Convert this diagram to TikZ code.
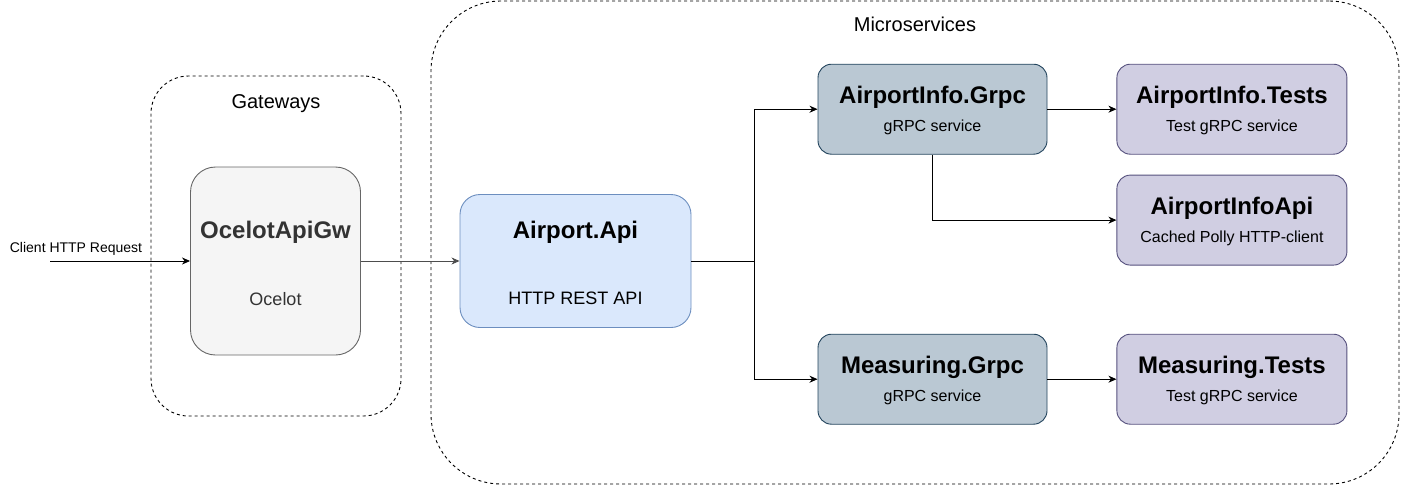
\documentclass[tikz,border=0pt]{standalone}
\usepackage{fontspec}
\setmainfont{Liberation Sans}
\usetikzlibrary{arrows.meta,positioning}

\definecolor{gwfill}{HTML}{F5F5F5}
\definecolor{gwline}{HTML}{666666}
\definecolor{gwtext}{HTML}{333333}
\definecolor{gwedge}{HTML}{4D4D4D}
\definecolor{apifill}{HTML}{DAE8FC}
\definecolor{apiline}{HTML}{6C8EBF}
\definecolor{rpcfill}{HTML}{BAC8D3}
\definecolor{rpcline}{HTML}{23445D}
\definecolor{tstfill}{HTML}{D0CEE2}
\definecolor{tstline}{HTML}{56517E}

\begin{document}
\begin{tikzpicture}[x=1pt,y=-1pt,node distance=20pt,
    group/.style={draw,rectangle,dash pattern=on 3pt off 3pt,line width=0.9pt},
    bigbox/.style={draw,rectangle,line width=0.9pt,rounded corners=20pt},
    rpcbox/.style={draw=rpcline,fill=rpcfill,rectangle,line width=0.9pt,rounded corners=13.5pt,
        minimum width=229pt,minimum height=90pt},
    tstbox/.style={rpcbox,draw=tstline,fill=tstfill,minimum width=230pt},
    title/.style={anchor=base,font=\fontsize{24}{28}\selectfont\bfseries},
    sub/.style={anchor=base,font=\fontsize{16}{19}\selectfont},
    grouplbl/.style={anchor=base,font=\fontsize{20}{24}\selectfont},
    edge/.style={draw,line width=0.9pt,-{Stealth[length=8pt,width=7pt,inset=2.5pt]}}]
    \useasboundingbox (0,0) rectangle (1401,485);

    % groups
    \node[group,rounded corners=37.5pt,minimum width=250pt,minimum height=340pt] (gw) at (276,246) {};
    \node[grouplbl] (gwT) at ([yshift=-33.3pt]gw.north) {Gateways};
    \node[group,rounded corners=70pt,minimum width=968pt,minimum height=483pt] (ms) at (915,242.5) {};
    \node[grouplbl] (msT) at ([yshift=-31.3pt]ms.north) {Microservices};

    % gateway and api
    \node[bigbox,draw=gwline,fill=gwfill,rounded corners=25pt,minimum width=170pt,minimum height=188pt] (ocelot) at (275.5,261) {};
    \node[title,text=gwtext] (ocelotT) at ([yshift=23pt]ocelot.center) {OcelotApiGw};
    \node[anchor=base,font=\fontsize{18}{22}\selectfont,text=gwtext] (ocelotS) at ([yshift=-44pt]ocelot.center) {Ocelot};

    \node[bigbox,draw=apiline,fill=apifill,minimum width=231pt,minimum height=133pt] (api) at (575.5,261) {};
    \node[title] (apiT) at ([yshift=22.7pt]api.center) {Airport.Api};
    \node[anchor=base,font=\fontsize{18}{22}\selectfont] (apiS) at ([yshift=-43.3pt]api.center) {HTTP REST API};

    % grpc services
    \node[rpcbox] (aig) at (932.5,109.2) {};
    \node[title] (aigT) at ([yshift=5.8pt]aig.center) {AirportInfo.Grpc};
    \node[sub] (aigS) at ([yshift=-22.6pt]aig.center) {gRPC service};
    \node[tstbox] (ait) [right=69pt of aig] {};
    \node[title] (aitT) at ([yshift=5.8pt]ait.center) {AirportInfo.Tests};
    \node[sub] (aitS) at ([yshift=-22.6pt]ait.center) {Test gRPC service};
    \node[tstbox] (aia) [below=of ait] {};
    \node[title] (aiaT) at ([yshift=5.8pt]aia.center) {AirportInfoApi};
    \node[sub] (aiaS) at ([yshift=-22.6pt]aia.center) {Cached Polly HTTP-client};

    \node[rpcbox] (mg) at (932.5,379.2) {};
    \node[title] (mgT) at ([yshift=5.8pt]mg.center) {Measuring.Grpc};
    \node[sub] (mgS) at ([yshift=-22.6pt]mg.center) {gRPC service};
    \node[tstbox] (mt) [right=69pt of mg] {};
    \node[title] (mtT) at ([yshift=5.8pt]mt.center) {Measuring.Tests};
    \node[sub] (mtS) at ([yshift=-22.6pt]mt.center) {Test gRPC service};

    % request
    \coordinate (req) at (50,261);
    \node[anchor=base,font=\fontsize{14}{17}\selectfont] (reqT) at ([xshift=26pt,yshift=8.3pt]req) {Client HTTP Request};
    \coordinate (fork) at (754,261);

    \draw[edge] (req) -- (ocelot);
    \draw[edge,gwedge] (ocelot) -- (api);
    \draw[edge] (api) -- (fork) |- (aig);
    \draw[edge] (fork) |- (mg);
    \draw[edge] (aig) -- (ait);
    \draw[edge] (aig.south) |- (aia);
    \draw[edge] (mg) -- (mt);
\end{tikzpicture}
\end{document}
